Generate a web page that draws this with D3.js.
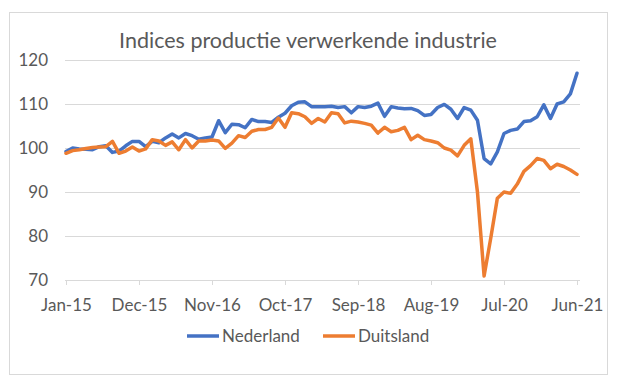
<!DOCTYPE html>
<html>
<head>
<meta charset="utf-8">
<script src="https://cdn.jsdelivr.net/npm/d3@7"></script>
<style>
  body { margin: 0; background: #fff; }
  svg text { font-family: Lato, "Open Sans", sans-serif; fill: #595959; }
</style>
</head>
<body>
<svg id="chart" width="625" height="376"></svg>
<script>
// maandcijfers jan-2015 .. jun-2021 (78 maanden)
var nederland = [
    99.2, 100.0, 99.8, 99.7, 99.6, 100.3, 100.5, 99.0, 99.3, 100.5, 101.5, 101.5,
    100.3, 101.5, 101.2, 102.3, 103.2, 102.3, 103.3, 102.8, 102.0, 102.3, 102.5, 106.2,
    103.5, 105.4, 105.3, 104.6, 106.5, 106.0, 106.0, 105.8, 107.0, 107.9, 109.6, 110.4,
    110.5, 109.4, 109.4, 109.4, 109.5, 109.2, 109.4, 108.0, 109.4, 109.2, 109.5, 110.2,
    107.2, 109.4, 109.1, 108.9, 109.0, 108.5, 107.4, 107.6, 109.2, 109.9, 108.8, 106.7,
    109.2, 108.6, 106.3, 97.6, 96.4, 99.1, 103.3, 104.0, 104.3, 106.0, 106.2, 107.1,
    109.8, 106.7, 110.0, 110.5, 112.3, 117.0
];
var duitsland = [
    98.8, 99.4, 99.6, 99.9, 100.1, 100.2, 100.3, 101.5, 98.8, 99.3, 100.2, 99.3,
    99.8, 101.9, 101.6, 100.6, 101.4, 99.6, 101.9, 100.0, 101.6, 101.6, 101.8, 101.6,
    99.9, 101.1, 102.8, 102.4, 103.8, 104.2, 104.2, 104.7, 106.8, 104.7, 108.0, 107.8,
    107.1, 105.6, 106.7, 105.9, 108.0, 107.8, 105.7, 106.1, 105.9, 105.6, 105.2, 103.4,
    104.7, 103.7, 104.0, 104.7, 101.9, 102.9, 101.9, 101.6, 101.2, 100.0, 99.5, 98.2,
    100.6, 102.1, 90.0, 70.9, 79.5, 88.6, 90.0, 89.7, 91.8, 94.7, 96.0, 97.6,
    97.2, 95.3, 96.3, 95.8, 95.0, 94.0
];
var xTickIndex = [0, 11, 22, 33, 44, 55, 66, 77];
var xTickLabels = ["Jan-15", "Dec-15", "Nov-16", "Oct-17", "Sep-18", "Aug-19", "Jul-20", "Jun-21"];
var yTicks = [70, 80, 90, 100, 110, 120];
var seriesNames = ["Nederland", "Duitsland"];
var seriesColors = ["#4472C4", "#ED7D31"];

var svg = d3.select("#chart");

// rand om de grafiek
svg.append("rect")
    .attr("x", 9.5).attr("y", 12.5)
    .attr("width", 598).attr("height", 362)
    .attr("fill", "#fff")
    .attr("stroke", "#d9d9d9");

svg.append("text")
    .attr("x", 308).attr("y", 48)
    .attr("text-anchor", "middle")
    .style("font-size", "21.5px")
    .text("Indices productie verwerkende industrie");

var plotLeft = 65, plotRight = 580;
var xScale = d3.scaleLinear().domain([0, 77]).range([66, 577]);
var yScale = d3.scaleLinear().domain([70, 120]).range([280, 60]);

// y-as met rasterlijnen
var yAxis = d3.axisLeft(yScale).tickValues(yTicks)
    .tickSize(-(plotRight - plotLeft)).tickPadding(17);
var gy = svg.append("g")
    .attr("transform", "translate(" + plotLeft + ",0)")
    .call(yAxis);
gy.select(".domain").remove();
gy.selectAll(".tick line").attr("stroke", "#d9d9d9").attr("stroke-width", 1);
gy.selectAll(".tick text").style("font-size", "17px").attr("fill", "#595959");

// x-as
var xAxis = d3.axisBottom(xScale).tickValues(xTickIndex)
    .tickFormat(function (d, i) { return xTickLabels[i]; })
    .tickSize(5).tickSizeOuter(0).tickPadding(14);
var gx = svg.append("g")
    .attr("transform", "translate(0," + yScale(70) + ")")
    .call(xAxis);
gx.select(".domain").attr("d", "M" + plotLeft + ",0.5H" + plotRight).attr("stroke", "#d9d9d9");
gx.selectAll(".tick line").attr("stroke", "#d9d9d9");
gx.selectAll(".tick text").style("font-size", "17px").attr("fill", "#595959");

var line = d3.line()
    .x(function (d, i) { return xScale(i); })
    .y(function (d) { return yScale(d); });

[nederland, duitsland].forEach(function (data, k) {
    svg.append("path")
        .datum(data)
        .attr("d", line)
        .attr("fill", "none")
        .attr("stroke", seriesColors[k])
        .attr("stroke-width", 3.5)
        .attr("stroke-linejoin", "round")
        .attr("stroke-linecap", "round");
});

// legenda
var legendX = [187, 323];
var legendY = 336;
var lg = svg.append("g");
seriesNames.forEach(function (name, k) {
    lg.append("line")
        .attr("x1", legendX[k]).attr("x2", legendX[k] + 32)
        .attr("y1", legendY).attr("y2", legendY)
        .attr("stroke", seriesColors[k])
        .attr("stroke-width", 3.5);
    lg.append("text")
        .attr("x", legendX[k] + 35).attr("y", legendY + 6)
        .style("font-size", "17px")
        .text(name);
});
</script>
</body>
</html>
